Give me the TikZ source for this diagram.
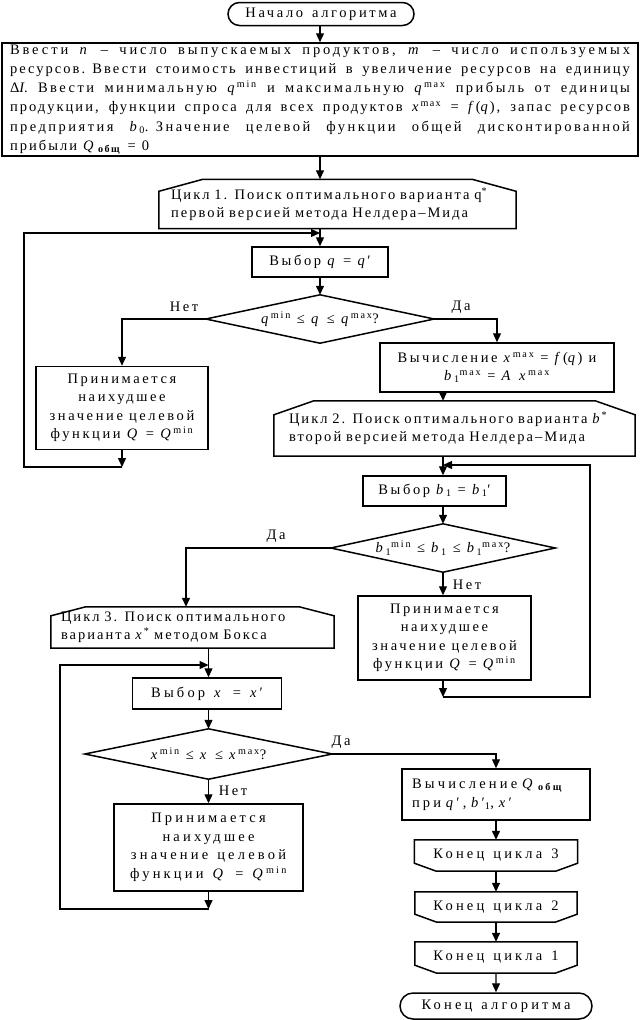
\documentclass[tikz,border=0pt]{standalone}
\usepackage{fontspec}
\setmainfont{Liberation Serif}[LetterSpace=18]
\newfontfamily\hexfnt{Liberation Serif}[LetterSpace=14]
\newfontfamily\widefnt{Liberation Serif}[LetterSpace=22]
\newfontfamily\lsA{Liberation Serif}[LetterSpace=14]
\newfontfamily\lsB{Liberation Serif}[LetterSpace=17]
\newfontfamily\lsC{Liberation Serif}[LetterSpace=20]
\usetikzlibrary{arrows.meta,shapes.misc}
\newcommand\vv[1]{\textit{#1}}
\newcommand\supx[1]{\textsuperscript{#1}}
\newcommand\subx[1]{\textsubscript{#1}}
\newcommand\pr{′}
\newcommand\wsp{\spaceskip=0.62em plus 0.1em minus 0.05em\relax}
\newcommand\nsp{\spaceskip=0.42em plus 0.1em minus 0.05em\relax}
\newcommand\jline[2]{\leavevmode\hbox to 620pt{#1\spaceskip=0.4em plus 1fil\relax #2}}
\newcommand\loopstart[3]{\draw[boxline] (#1.south west) -- ([yshift=-#3]#1.north west) -- ([xshift=#2]#1.north west) -- ([xshift=-#2]#1.north east) -- ([yshift=-#3]#1.north east) -- (#1.south east) -- cycle;}
\newcommand\loopend[3]{\draw[boxline] (#1.north west) -- ([yshift=#3]#1.south west) -- ([xshift=#2]#1.south west) -- ([xshift=-#2]#1.south east) -- ([yshift=#3]#1.south east) -- (#1.north east) -- cycle;}
\newcommand\diam[1]{\draw[boxline] (#1.north) -- (#1.east) -- (#1.south) -- (#1.west) -- cycle;}
\begin{document}
\begin{tikzpicture}[x=1pt,y=-1pt,
  every node/.style={font=\fontsize{14.5pt}{18.5pt}\selectfont\nsp},
  wide/.style={font=\widefnt\fontsize{14.5pt}{18.5pt}\selectfont\wsp},
  hex/.style={font=\hexfnt\fontsize{14.5pt}{18pt}\selectfont\wsp, inner sep=0pt, align=left},
  boxline/.style={line width=1.5pt, line join=miter},
  box/.style={draw, line width=1.5pt, inner sep=0pt, align=center},
  plain/.style={inner sep=0pt, align=center},
  term/.style={draw, line width=1.5pt, rounded rectangle, inner sep=0pt},
  arr/.style={line width=1.3pt, -{Triangle[length=9pt,width=8pt]}}]
\useasboundingbox (0,0) rectangle (640,1020);
\fill[white] (0,0) rectangle (640,1020);

% nodes
\node[term, minimum width=186pt, minimum height=23pt, font=\fontsize{14.5pt}{18.5pt}\selectfont\wsp] (start) at (321,14) {Начало алгоритма};

\node[box, minimum width=636pt, minimum height=113pt, text width=620pt, inner xsep=8pt, align=left,
  font=\fontsize{14.5pt}{19.2pt}\selectfont] (input) at (320,99.5)
 {\jline{\lsC}{Ввести \vv{n} – число выпускаемых продуктов, \vv{m} – число используемых}\\
  \jline{\lsA}{ресурсов. Ввести стоимость инвестиций в увеличение ресурсов на единицу}\\
  \jline{\lsB}{Δ\vv{I}. Ввести минимальную \vv{q}\supx{min} и максимальную \vv{q}\supx{max} прибыль от единицы}\\
  \jline{\lsA}{продукции, функции спроса для всех продуктов \vv{x}\supx{max} = \vv{f}(\vv{q}), запас ресурсов}\\
  \jline{\lsB}{предприятия \vv{b}\subx{0}. Значение целевой функции общей дисконтированной}\\
  \lsA\nsp прибыли \vv{Q}\,\subx{\textbf{общ}} = 0};

\node[hex, minimum width=357pt, minimum height=49pt, text width=333pt, inner xsep=12pt] (c1) at (337.5,204)
 {\mbox{Цикл 1. Поиск оптимального варианта q\supx{*}}\\\mbox{первой версией метода Нелдера–Мида}};

\node[box, minimum width=136pt, minimum height=30pt] (selq) at (320,262) {Выбор \vv{q} = \vv{q}\pr};

\node[plain, minimum width=228pt, minimum height=48pt] (d1) at (320,319) {\vv{q}\supx{min} ≤ \vv{q} ≤ \vv{q}\supx{max}?};

\node[box, minimum width=172pt, minimum height=83pt] (worst1) at (122,408)
 {Принимается\\наихудшее\\значение целевой\\функции \vv{Q} = \vv{Q}\supx{min}};

\node[box, minimum width=234pt, minimum height=49pt] (calcx) at (497,367.5)
 {Вычисление \vv{x}\supx{max} = \vv{f}(\vv{q}) и\\\vv{b}\subx{1}\supx{max} = \vv{A} \vv{x}\supx{max}};

\node[hex, minimum width=361pt, minimum height=55pt, text width=331pt, inner xsep=15pt] (c2) at (454.5,428.5)
 {\mbox{Цикл 2. Поиск оптимального варианта \vv{b}\supx{*}}\\\mbox{второй версией метода Нелдера–Мида}};

\node[box, minimum width=143pt, minimum height=30pt] (selb) at (434.5,491) {Выбор \vv{b}\subx{1} = \vv{b}\subx{1}\pr};

\node[plain, minimum width=224pt, minimum height=48pt] (d2) at (443,548) {\vv{b}\subx{1}\supx{min} ≤ \vv{b}\subx{1} ≤ \vv{b}\subx{1}\supx{max}?};

\node[box, minimum width=173pt, minimum height=84pt] (worst2) at (444.5,638)
 {Принимается\\наихудшее\\значение целевой\\функции \vv{Q} = \vv{Q}\supx{min}};

\node[hex, minimum width=283pt, minimum height=41pt, text width=263pt, inner xsep=10pt] (c3) at (192.5,627.5)
 {\mbox{Цикл 3. Поиск оптимального}\\\mbox{варианта \vv{x}\supx{*} методом Бокса}};

\node[box, wide, minimum width=149pt, minimum height=31pt] (selx) at (207,693.5) {Выбор \vv{x} = \vv{x}\pr};

\node[plain, minimum width=247pt, minimum height=50pt] (d3) at (208.5,754) {\vv{x}\supx{min} ≤ \vv{x} ≤ \vv{x}\supx{max}?};

\node[box, wide, minimum width=189pt, minimum height=87pt] (worst3) at (208.5,847.5)
 {Принимается\\наихудшее\\значение целевой\\функции \vv{Q} = \vv{Q}\supx{min}};

\node[box, wide, minimum width=188pt, minimum height=51pt, text width=168pt, inner xsep=10pt, align=left] (calcQ) at (496,794.5)
 {\mbox{Вычисление \vv{Q}\,\subx{\textbf{общ}}}\\\mbox{при \vv{q}\pr, \vv{b}\pr\subx{1}, \vv{x}\pr}};

\node[plain, wide, minimum width=163pt, minimum height=31pt] (e3) at (496,855.5) {Конец цикла 3};
\node[plain, wide, minimum width=162pt, minimum height=30pt] (e2) at (496,907) {Конец цикла 2};
\node[plain, wide, minimum width=162pt, minimum height=31pt] (e1) at (496,957.5) {Конец цикла 1};
\node[term, wide, minimum width=192pt, minimum height=26pt] (end) at (496,1006) {Конец алгоритма};

% custom outlines
\loopstart{c1}{44pt}{12pt}
\loopstart{c2}{40pt}{14pt}
\loopstart{c3}{35pt}{9pt}
\diam{d1}
\diam{d2}
\diam{d3}
\loopend{e3}{22pt}{8pt}
\loopend{e2}{22pt}{8pt}
\loopend{e1}{22pt}{8pt}

% labels
\node[plain] (no1) at (184,307) {Нет};
\node[plain] (yes1) at (461,307) {Да};
\node[plain] (yes2) at (276,536) {Да};
\node[plain] (no2) at (467,585) {Нет};
\node[plain] (yes3) at (341,742) {Да};
\node[plain] (no3) at (233,791) {Нет};

% junction coordinates
\coordinate (m1) at (320,233);
\coordinate (j1) at (122,467);
\coordinate (a1) at (24,467);
\coordinate (b1) at (24,233);
\coordinate (m2) at (443,465);
\coordinate (j2) at (443,697);
\coordinate (a2) at (590,697);
\coordinate (b2) at (590,465);
\coordinate (m3) at (208.5,665);
\coordinate (j3) at (208.5,909);
\coordinate (a3) at (60,909);
\coordinate (b3) at (60,665);

% connectors
\draw[arr] (start.south -| input) -- (input.north);
\draw[arr] (input.south) -- (input.south |- c1.north);
\draw[arr] (c1.south -| selq) -- (selq.north);
\draw[arr] (worst1) -- (j1);
\draw[arr] (j1) -- (a1) -- (b1) -- (m1);
\draw[arr] (selq) -- (d1.north);
\draw[arr] (d1.west) -| (worst1.north);
\draw[arr] (d1.east) -| (calcx.north);
\draw[arr] (calcx.south -| d2) -- (c2.north -| d2);
\draw[arr] (c2.south -| d2) -- (selb.north -| d2);
\draw[arr] (worst2.south -| d2) -- (j2);
\draw[arr] (j2) -- (a2) -- (b2) -- (m2);
\draw[arr] (selb.south -| d2) -- (d2.north);
\draw[arr] (d2.south) -- (worst2.north -| d2);
\draw[arr] (d2.west) -| ([xshift=-6.5pt]c3.north);
\draw[arr] (c3.south -| d3) -- (selx.north -| d3);
\draw[arr] (worst3) -- (j3);
\draw[arr] (j3) -- (a3) -- (b3) -- (m3);
\draw[arr] (selx.south -| d3) -- (d3.north);
\draw[arr] (d3.south) -- (worst3.north);
\draw[arr] (d3.east) -| (calcQ.north);
\draw[arr] (calcQ) -- (e3.north);
\draw[arr] (e3) -- (e2.north);
\draw[arr] (e2) -- (e1.north);
\draw[arr] (e1) -- (end);
\end{tikzpicture}
\end{document}
